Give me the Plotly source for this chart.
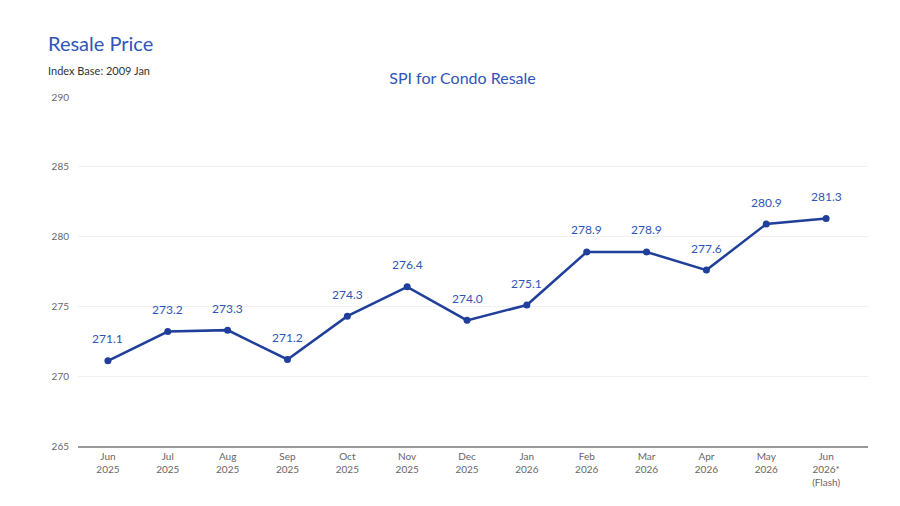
import plotly.graph_objects as go

months = ['Jun<br>2025', 'Jul<br>2025', 'Aug<br>2025', 'Sep<br>2025', 'Oct<br>2025', 'Nov<br>2025',
          'Dec<br>2025', 'Jan<br>2026', 'Feb<br>2026', 'Mar<br>2026', 'Apr<br>2026', 'May<br>2026',
          'Jun<br>2026*<br>(Flash)']
spi = [271.1, 273.2, 273.3, 271.2, 274.3, 276.4, 274.0, 275.1, 278.9, 278.9, 277.6, 280.9, 281.3]
y_ticks = [265, 270, 275, 280, 285, 290]

# Linha do índice
fig = go.Figure()
fig.add_trace(
    go.Scatter(x=months, y=spi,
               mode='lines+markers',
               line=dict(color='#1f3f9a', width=2.5),
               marker=dict(color='#1f3f9a', size=7),
               cliponaxis=False)
)

# Rótulos dos valores
for m, v in zip(months, spi):
    fig.add_annotation(x=m, y=v, text=f'{v:.1f}', showarrow=False, yshift=22,
                       font=dict(color='#2f55b8', size=12))

fig.add_annotation(text='Resale Price', x=-0.04, y=1.195, xref='paper', yref='paper',
                   xanchor='left', yanchor='top', showarrow=False,
                   font=dict(size=20, color='#2f55b8'))
fig.add_annotation(text='Index Base: 2009 Jan', x=-0.04, y=1.1, xref='paper', yref='paper',
                   xanchor='left', yanchor='top', showarrow=False,
                   font=dict(size=11, color='#333333'))

fig.update_layout(
    width=900, height=506,
    title=dict(text='SPI for Condo Resale', x=0.505, y=0.86, xanchor='center', yanchor='middle',
               font=dict(size=16, color='#2f55b8')),
    font=dict(family='Lato, Open Sans, sans-serif', color='#666666', size=10),
    plot_bgcolor='white', paper_bgcolor='white',
    showlegend=False,
    margin=dict(l=70, r=40, t=89, b=68),
    xaxis=dict(showline=True, linecolor='#999999', linewidth=2, ticks='', showgrid=False,
               range=[-0.5, 12.7]),
    yaxis=dict(range=[265, 290], tickvals=y_ticks, gridcolor='#f0f0f0', zeroline=False,
               ticks='', ticklabelstandoff=8),
)

fig.write_html("out.html")
